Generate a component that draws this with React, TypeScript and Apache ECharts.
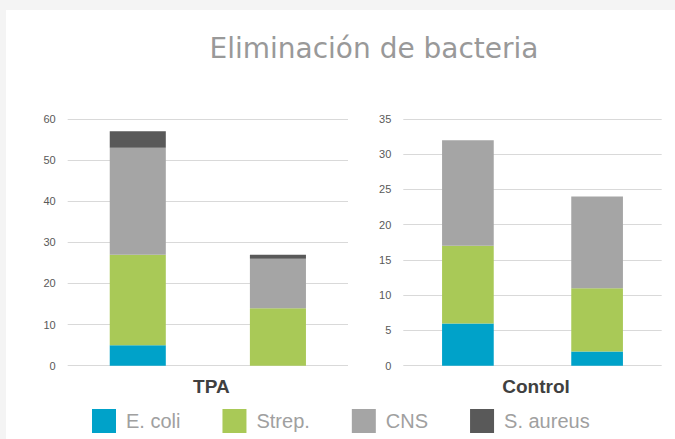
import React, { useEffect, useRef } from "react";
import * as echarts from "echarts";

const chartTitle = "Eliminación de bacteria";
const groups = ["TPA", "Control"];
const subBars = ["1", "2"];
const bacteria = ["E. coli", "Strep.", "CNS", "S. aureus"];
const colors = ["#00a2c9", "#a9c957", "#a5a5a5", "#595959"];

// TPA panel (two bars)
const tpaEColi = [5, 0];
const tpaStrep = [22, 14];
const tpaCNS = [26, 12];
const tpaSAureus = [4, 1];

// Control panel (two bars)
const controlEColi = [6, 2];
const controlStrep = [11, 9];
const controlCNS = [15, 13];
const controlSAureus = [0, 0];

const tpaAxis = { max: 60, interval: 10 };
const controlAxis = { max: 35, interval: 5 };

export default function App() {
  const ref = useRef<HTMLDivElement>(null);
  useEffect(() => {
    document.body.style.margin = "0";
    if (!ref.current) return;
    const chart = echarts.init(ref.current, null, { renderer: "svg" });
    const tpaData = [tpaEColi, tpaStrep, tpaCNS, tpaSAureus];
    const controlData = [controlEColi, controlStrep, controlCNS, controlSAureus];
    const tickFont = { color: "#595959", fontSize: 11, fontFamily: "Liberation Sans, Arial, sans-serif", margin: 12 };
    const nameFont = {
      color: "#404040", fontSize: 19, fontWeight: "bold" as const,
      fontFamily: "Liberation Sans, Arial, sans-serif", padding: [0, 0, 0, 7],
    };
    const series: any[] = [];
    bacteria.forEach((b, i) => {
      series.push({
        name: b, type: "bar", stack: "tpa", xAxisIndex: 0, yAxisIndex: 0,
        barWidth: "40%", itemStyle: { color: colors[i] }, data: tpaData[i],
      });
    });
    bacteria.forEach((b, i) => {
      series.push({
        name: b, type: "bar", stack: "control", xAxisIndex: 1, yAxisIndex: 1,
        barWidth: "40%", itemStyle: { color: colors[i] }, data: controlData[i],
      });
    });
    const yCommon = (ax: { max: number; interval: number }) => ({
      type: "value", min: 0, max: ax.max, interval: ax.interval,
      axisLine: { show: false }, axisTick: { show: false },
      splitLine: { lineStyle: { color: "#d9d9d9", width: 1 } },
      axisLabel: tickFont,
    });
    const xCommon = (gi: number, name: string) => ({
      type: "category", gridIndex: gi, data: subBars,
      axisLine: { show: false }, axisTick: { show: false }, axisLabel: { show: false },
      name, nameLocation: "middle", nameGap: 11, nameTextStyle: nameFont,
    });
    chart.setOption({
      animation: false,
      backgroundColor: "transparent",
      title: {
        text: chartTitle, left: 369, top: 29, textAlign: "center",
        textStyle: { color: "#999999", fontSize: 28, fontWeight: "normal", fontFamily: "DejaVu Sans, sans-serif" },
      },
      legend: {
        data: bacteria, left: 87, top: 404, icon: "rect", itemWidth: 24, itemHeight: 24, itemGap: 42,
        textStyle: { color: "#a0a0a0", fontSize: 20, fontWeight: "normal", fontFamily: "Liberation Sans, Arial, sans-serif", padding: [0, 0, 0, 5] },
      },
      grid: [
        { left: 67.7, top: 119, width: 280.3, height: 246.7 },
        { left: 403.3, top: 119, width: 258.4, height: 246.7 },
      ],
      xAxis: [xCommon(0, groups[0]), xCommon(1, groups[1])],
      yAxis: [{ ...yCommon(tpaAxis), gridIndex: 0 }, { ...yCommon(controlAxis), gridIndex: 1 }],
      series,
    });
    return () => chart.dispose();
  }, []);
  return (
    <div style={{ position: "relative", width: 675, height: 439, background: "#f4f4f4", overflow: "hidden" }}>
      <div style={{ position: "absolute", left: 6, top: 10, right: 0, bottom: 0, background: "#ffffff" }} />
      <div ref={ref} style={{ position: "absolute", left: 0, top: 0, width: 675, height: 439 }} />
    </div>
  );
}
